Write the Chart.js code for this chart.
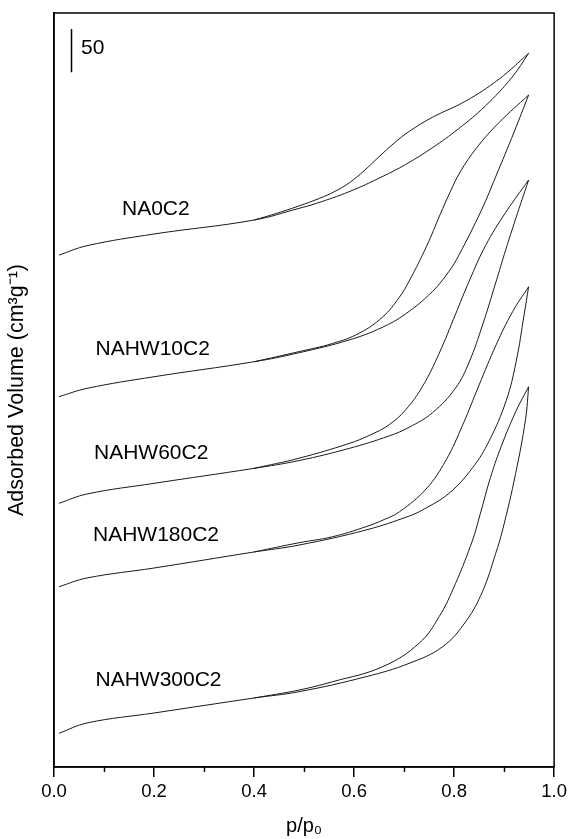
<!DOCTYPE html>
<html>
<head>
<meta charset="utf-8">
<script src="https://cdn.jsdelivr.net/npm/chart.js@4"></script>
<style>
  html, body { margin: 0; padding: 0; background: #fff; }
  #wrap { width: 571px; height: 839px; }
</style>
</head>
<body>
<div id="wrap"><canvas id="iso" width="571" height="839"></canvas></div>
<script>
/* Isotermas N2 (adsorção / dessorção), curvas deslocadas verticalmente. */

const samples = ['NA0C2', 'NAHW10C2', 'NAHW60C2', 'NAHW180C2', 'NAHW300C2'];

// NA0C2
const na0AdsP = [0.01, 0.066, 0.2, 0.4, 0.49, 0.525, 0.59, 0.656, 0.703, 0.756, 0.809, 0.862, 0.916, 0.949];
const na0AdsV = [590.7, 601.5, 615.0, 631.1, 644.6, 650.4, 663.8, 681.1, 695.2, 714.3, 736.5, 762.5, 796.0, 823.5];
const na0DesP = [0.4, 0.44, 0.49, 0.531, 0.56, 0.59, 0.62, 0.65, 0.68, 0.71, 0.757, 0.823, 0.89, 0.949];
const na0DesV = [631.1, 637.9, 647.4, 656.2, 663.7, 673.9, 688.0, 704.2, 719.8, 733.3, 749.8, 768.3, 793.8, 823.5];

// NAHW10C2
const hw10AdsP = [0.01, 0.066, 0.2, 0.4, 0.49, 0.59, 0.656, 0.702, 0.756, 0.79, 0.81, 0.854, 0.883, 0.92, 0.949];
const hw10AdsV = [427.3, 436.9, 450.3, 467.6, 478.0, 492.7, 507.2, 522.4, 548.3, 572.1, 591.1, 641.7, 680.9, 732.7, 775.4];
const hw10DesP = [0.4, 0.49, 0.557, 0.61, 0.657, 0.69, 0.71, 0.745, 0.772, 0.792, 0.812, 0.845, 0.89, 0.949];
const hw10DesV = [467.6, 479.3, 488.7, 500.4, 519.2, 541.6, 560.6, 600.9, 637.4, 663.4, 686.4, 714.4, 743.7, 775.4];

// NAHW60C2
const hw60AdsP = [0.01, 0.066, 0.2, 0.4, 0.49, 0.59, 0.67, 0.71, 0.757, 0.803, 0.83, 0.857, 0.883, 0.903, 0.923, 0.949];
const hw60AdsV = [304.3, 315.0, 327.3, 344.6, 353.6, 367.6, 382.0, 392.0, 408.9, 437.4, 467.1, 510.3, 558.4, 596.4, 632.4, 677.3];
const hw60DesP = [0.4, 0.49, 0.59, 0.63, 0.67, 0.703, 0.737, 0.77, 0.803, 0.83, 0.863, 0.903, 0.949];
const hw60DesV = [344.6, 356.3, 373.3, 382.5, 394.9, 412.1, 439.3, 477.2, 522.7, 560.5, 601.8, 639.8, 677.3];

// NAHW180C2
const hw180AdsP = [0.01, 0.066, 0.2, 0.4, 0.49, 0.624, 0.71, 0.737, 0.79, 0.837, 0.87, 0.904, 0.924, 0.94, 0.949];
const hw180AdsV = [208.0, 218.1, 229.6, 248.1, 256.1, 273.5, 289.5, 296.7, 315.9, 345.4, 376.2, 422.5, 467.7, 521.9, 554.2];
const hw180DesP = [0.4, 0.49, 0.557, 0.624, 0.66, 0.691, 0.744, 0.784, 0.817, 0.85, 0.884, 0.917, 0.949];
const hw180DesV = [248.1, 258.8, 265.7, 277.3, 285.5, 294.6, 320.8, 354.3, 394.5, 440.8, 487.1, 525.4, 554.2];

// NAHW300C2
const hw300AdsP = [0.01, 0.066, 0.2, 0.4, 0.49, 0.624, 0.71, 0.777, 0.824, 0.857, 0.883, 0.897, 0.923, 0.943, 0.949];
const hw300AdsV = [38.9, 50.8, 62.3, 79.6, 86.9, 104.2, 119.6, 138.8, 168.4, 202.9, 246.2, 273.6, 338.6, 402.0, 438.8];
const hw300DesP = [0.4, 0.49, 0.557, 0.657, 0.73, 0.77, 0.803, 0.837, 0.85, 0.86, 0.87, 0.89, 0.923, 0.949];
const hw300DesV = [79.6, 88.8, 98.4, 115.7, 142.8, 173.4, 212.0, 261.9, 287.3, 308.1, 328.9, 363.5, 409.8, 438.8];

// rótulos das curvas (posição em p/p0 e volume)
const labelP = [0.136, 0.083, 0.080, 0.078, 0.083];
const labelV = [643.8, 482.3, 362.3, 267.7, 100.4];

// barra de escala (50 cm3/g)
const scaleBarP = [0.035, 0.035];
const scaleBarV = [801.5, 851.5];
const scaleBarText = '50';

const xTicks = [0, 0.2, 0.4, 0.6, 0.8, 1.0];
const FONT = '"Liberation Sans", Arial, sans-serif';

const pts = (xs, ys) => xs.map((x, i) => ({ x, y: ys[i] }));
const branches = [
  [na0AdsP, na0AdsV], [na0DesP, na0DesV],
  [hw10AdsP, hw10AdsV], [hw10DesP, hw10DesV],
  [hw60AdsP, hw60AdsV], [hw60DesP, hw60DesV],
  [hw180AdsP, hw180AdsV], [hw180DesP, hw180DesV],
  [hw300AdsP, hw300AdsV], [hw300DesP, hw300DesV]
];

const datasets = branches.map(([p, v]) => ({
  data: pts(p, v), showLine: true, borderColor: '#1a1a1a', borderWidth: 1,
  pointRadius: 0, tension: 0.4, fill: false
}));
datasets.push({
  data: pts(scaleBarP, scaleBarV), showLine: true, borderColor: '#000',
  borderWidth: 1.5, pointRadius: 0, tension: 0
});

// textos sobre o gráfico + moldura + ticks menores
const overlay = {
  id: 'overlay',
  afterDatasetsDraw(chart) {
    const { ctx, chartArea: a, scales: { x, y } } = chart;
    ctx.save();
    ctx.fillStyle = '#000';
    ctx.font = '21px ' + FONT;
    ctx.textAlign = 'left';
    ctx.textBaseline = 'middle';
    samples.forEach((s, i) => ctx.fillText(s, x.getPixelForValue(labelP[i]), y.getPixelForValue(labelV[i])));
    ctx.fillText(scaleBarText, x.getPixelForValue(0.054), y.getPixelForValue(829.6));

    ctx.strokeStyle = '#000';
    ctx.lineWidth = 1.5;
    ctx.strokeRect(a.left, a.top, a.right - a.left, a.bottom - a.top);
    // ticks menores
    for (let v = 0.1; v < 1; v += 0.2) {
      const px = Math.round(x.getPixelForValue(v)) + 0.5;
      ctx.beginPath();
      ctx.moveTo(px, a.bottom);
      ctx.lineTo(px, a.bottom + 5);
      ctx.stroke();
    }
    ctx.restore();
  }
};

new Chart(document.getElementById('iso'), {
  type: 'scatter',
  data: { datasets },
  plugins: [overlay],
  options: {
    responsive: false,
    animation: false,
    layout: { padding: { top: 13, right: 16, left: 0, bottom: 0 } },
    plugins: { legend: { display: false }, tooltip: { enabled: false } },
    scales: {
      x: {
        type: 'linear', min: 0, max: 1,
        afterBuildTicks: s => { s.ticks = xTicks.map(v => ({ value: v })); },
        afterFit: s => { s.height = 72; },
        grid: { display: true, drawOnChartArea: false, drawTicks: true, tickLength: 10, color: '#000', lineWidth: 1.5 },
        border: { display: true, color: '#000', width: 1.5 },
        ticks: { color: '#000', font: { family: FONT, size: 18.5 }, padding: 4, maxRotation: 0,
          callback: v => v.toFixed(1) },
        title: { display: true, text: 'p/p₀', color: '#000', font: { family: FONT, size: 20 }, padding: { top: 0, bottom: 1 } }
      },
      y: {
        type: 'linear', min: 0, max: 870,
        afterFit: s => { s.width = 54; },
        grid: { display: false },
        border: { display: true, color: '#000', width: 1.5 },
        ticks: { display: false },
        title: { display: true, text: 'Adsorbed Volume (cm³g⁻¹)', color: '#000', font: { family: FONT, size: 21.5 }, padding: { top: 4, bottom: 0 } }
      }
    }
  }
});
</script>
</body>
</html>
